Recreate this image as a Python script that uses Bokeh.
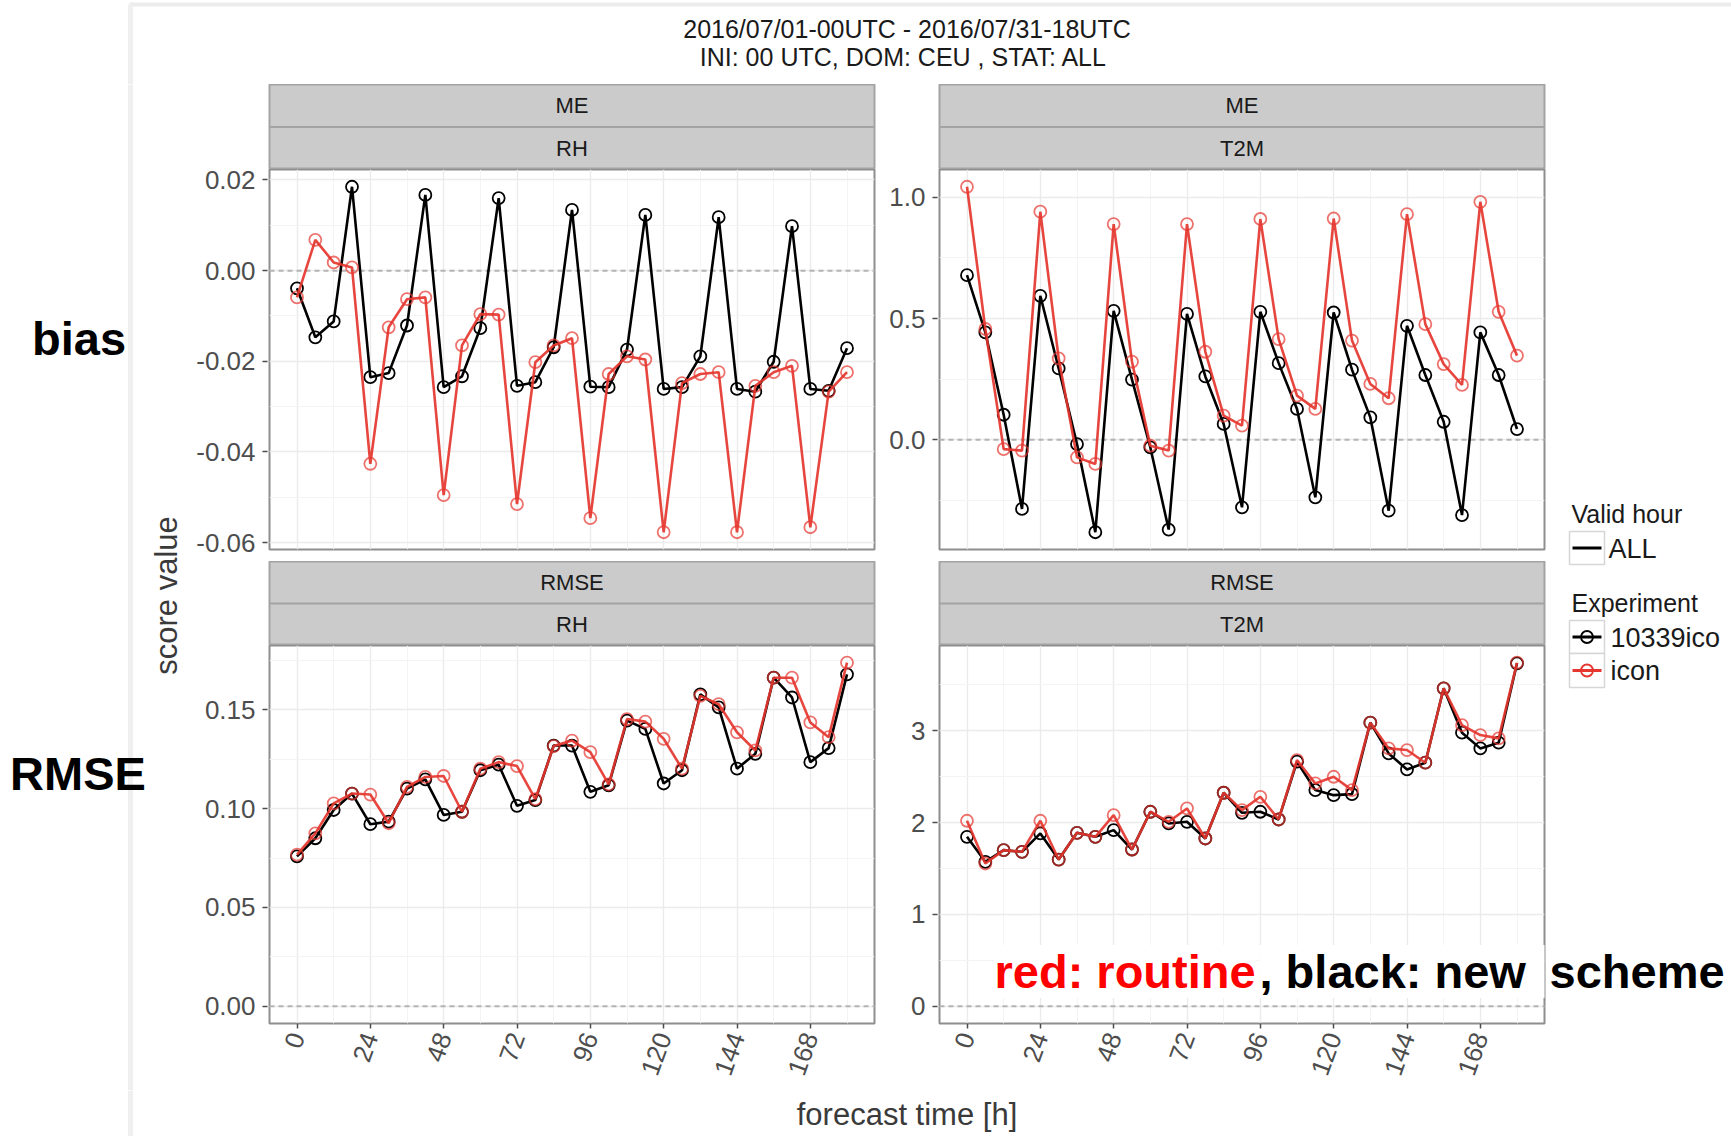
import math
from bokeh.plotting import figure
from bokeh.layouts import row, column
from bokeh.models import Range1d, FixedTicker, PrintfTickFormatter, Grid, Span, Label
from bokeh.embed import file_html
from bokeh.resources import INLINE
from bokeh.core.properties import value

# ---------------------------------------------------------------- data
# forecast lead times [h]
hours = [0, 6, 12, 18, 24, 30, 36, 42, 48, 54, 60, 66, 72, 78, 84, 90,
         96, 102, 108, 114, 120, 126, 132, 138, 144, 150, 156, 162, 168, 174, 180]
x_ticks = [0, 24, 48, 72, 96, 120, 144, 168]
x_minor = [12, 36, 60, 84, 108, 132, 156, 180]

experiments = ["10339ico", "icon"]
valid_hours = ["ALL"]

# mean error, relative humidity
me_rh_new = [-0.0039, -0.0147, -0.0112, 0.0185, -0.0235, -0.0226, -0.0121, 0.0167,
             -0.0257, -0.0233, -0.0127, 0.0160, -0.0254, -0.0246, -0.0169, 0.0134,
             -0.0256, -0.0257, -0.0174, 0.0123, -0.0261, -0.0257, -0.0189, 0.0118,
             -0.0261, -0.0267, -0.0201, 0.0098, -0.0261, -0.0265, -0.0171]
me_rh_icon = [-0.0059, 0.0068, 0.0018, 0.0007, -0.0426, -0.0125, -0.0063, -0.0059,
              -0.0495, -0.0165, -0.0096, -0.0097, -0.0515, -0.0202, -0.0165, -0.0149,
              -0.0546, -0.0228, -0.0189, -0.0196, -0.0577, -0.0248, -0.0228, -0.0224,
              -0.0577, -0.0254, -0.0224, -0.0210, -0.0566, -0.0267, -0.0224]

# mean error, 2 m temperature
me_t2m_new = [0.679, 0.443, 0.103, -0.286, 0.594, 0.294, -0.018, -0.382,
              0.532, 0.248, -0.032, -0.371, 0.519, 0.261, 0.065, -0.279,
              0.528, 0.316, 0.127, -0.238, 0.525, 0.289, 0.092, -0.293,
              0.470, 0.267, 0.074, -0.311, 0.443, 0.267, 0.044]
me_t2m_icon = [1.044, 0.457, -0.039, -0.045, 0.941, 0.336, -0.073, -0.100,
               0.890, 0.322, -0.025, -0.045, 0.890, 0.363, 0.099, 0.058,
               0.911, 0.415, 0.182, 0.127, 0.913, 0.409, 0.230, 0.171,
               0.931, 0.477, 0.312, 0.226, 0.982, 0.528, 0.347]

# RMSE, relative humidity
rmse_rh_new = [0.0758, 0.0850, 0.0993, 0.1076, 0.0921, 0.0934, 0.1101, 0.1148,
               0.0968, 0.0984, 0.1194, 0.1222, 0.1014, 0.1043, 0.1319, 0.1319,
               0.1085, 0.1118, 0.1445, 0.1403, 0.1127, 0.1194, 0.1578, 0.1512,
               0.1202, 0.1277, 0.1662, 0.1562, 0.1235, 0.1306, 0.1679]
rmse_rh_icon = [0.0767, 0.0875, 0.1026, 0.1076, 0.1071, 0.0926, 0.1110, 0.1160,
                0.1165, 0.0984, 0.1202, 0.1235, 0.1215, 0.1048, 0.1316, 0.1344,
                0.1286, 0.1122, 0.1453, 0.1440, 0.1353, 0.1202, 0.1570, 0.1528,
                0.1386, 0.1294, 0.1662, 0.1662, 0.1436, 0.1361, 0.1738]

# RMSE, 2 m temperature
rmse_t2m_new = [1.845, 1.573, 1.700, 1.682, 1.882, 1.598, 1.889, 1.845,
                1.918, 1.707, 2.118, 1.991, 2.009, 1.827, 2.325, 2.107,
                2.118, 2.034, 2.663, 2.354, 2.299, 2.310, 3.088, 2.753,
                2.579, 2.652, 3.462, 2.979, 2.808, 2.870, 3.734]
rmse_t2m_icon = [2.020, 1.555, 1.700, 1.682, 2.020, 1.598, 1.889, 1.845,
                 2.081, 1.707, 2.118, 2.009, 2.154, 1.827, 2.325, 2.136,
                 2.281, 2.034, 2.681, 2.426, 2.499, 2.354, 3.088, 2.808,
                 2.790, 2.652, 3.462, 3.062, 2.953, 2.917, 3.741]

title_lines = ["2016/07/01-00UTC - 2016/07/31-18UTC",
               "INI: 00 UTC, DOM:  CEU , STAT: ALL"]

# ---------------------------------------------------------------- style
FONT = "Liberation Sans"
RED = "#e5362f"
EDGE = "#8e8e8e"
STRIP = "#cbcbcb"
STRIP_EDGE = "#a3a3a3"
GRID = "#ebebeb"
GRID_MINOR = "#f4f4f4"
TICK_TXT = "#4d4d4d"

# layout sizes in pixels
TITLE_H, BODY_H, FOOT_H = 84, 1006, 46
COL_A, COL_E = 184, 185
FRAME_W = 605
L_AXIS_W, L_RIGHT = 84, 5      # y-axis strip width / right gap, left panels
R_AXIS_W, R_RIGHT = 59, 2      # same for the right panels
STRIP_TOP_H, PANEL_TOP_H = 85, 392
STRIP_BOT_H, PANEL_BOT_H = 84, 445
GAP, AXIS_H = 12, 67


def canvas(x0, x1, y0, y1):
    """Plain drawing surface whose data units are page pixels (y downwards)."""
    c = figure(width=x1 - x0, height=y1 - y0,
               x_range=Range1d(x0, x1), y_range=Range1d(y1, y0),
               x_axis_location=None, y_axis_location=None,
               min_border_left=0, min_border_right=0,
               min_border_top=0, min_border_bottom=0,
               toolbar_location=None, output_backend="svg",
               outline_line_color=None, background_fill_color="white",
               border_fill_color="white")
    c.grid.visible = False
    return c


def strip(labels, right, height):
    n = len(labels)
    s = figure(width=1 + FRAME_W + right, height=height,
               x_range=Range1d(0, 1), y_range=Range1d(0, n),
               x_axis_location=None, y_axis_location=None,
               min_border_left=1, min_border_right=right,
               min_border_top=0, min_border_bottom=0,
               toolbar_location=None, output_backend="svg",
               background_fill_color=STRIP, border_fill_color="white",
               outline_line_color=STRIP_EDGE, outline_line_width=2)
    s.grid.visible = False
    for k in range(1, n):
        s.add_layout(Span(location=k, dimension="width",
                          line_color=STRIP_EDGE, line_width=2))
    s.text(x=[0.5] * n, y=[n - 0.5 - i for i in range(n)], text=labels,
           text_align="center", text_baseline="middle",
           text_font=value(FONT), text_font_size="22px", text_color="#1a1a1a")
    return s


def style_axis(ax):
    ax.axis_line_color = None
    ax.major_tick_line_color = TICK_TXT
    ax.major_tick_line_width = 1.5
    ax.major_tick_out = 5
    ax.major_tick_in = 0
    ax.minor_tick_line_color = None
    ax.major_label_text_font = FONT
    ax.major_label_text_font_size = "26px"
    ax.major_label_text_color = TICK_TXT
    ax.major_label_standoff = 7


def panel(new, icon, yticks, yminor, fmt, axis_w, right, strip_h, height,
          bottom, with_x, include_zero):
    """Returns (y-axis figure, data figure) sharing one y range."""
    vals = new + icon + ([0.0] if include_zero else [])
    lo, hi = min(vals), max(vals)
    pad = 0.05 * (hi - lo)
    xpad = 0.05 * (max(hours) - min(hours))
    y_range = Range1d(lo - pad, hi + pad)
    xt = FixedTicker(ticks=x_ticks, minor_ticks=x_minor)
    yt = FixedTicker(ticks=yticks, minor_ticks=yminor)

    # y axis lives in its own narrow figure that also spans the strip height,
    # so that tick labels near the top are not clipped
    a = figure(width=axis_w, height=strip_h + height,
               x_range=Range1d(0, 1), y_range=y_range,
               x_axis_location=None, y_axis_location="left",
               min_border_left=axis_w - 1, min_border_right=0,
               min_border_top=strip_h, min_border_bottom=bottom,
               toolbar_location=None, output_backend="svg",
               background_fill_color=None, border_fill_color="white",
               outline_line_color=None)
    a.grid.visible = False
    style_axis(a.yaxis[0])
    a.yaxis.ticker = yt
    a.yaxis.formatter = PrintfTickFormatter(format=fmt)

    p = figure(width=1 + FRAME_W + right, height=height,
               x_range=Range1d(min(hours) - xpad, max(hours) + xpad),
               y_range=y_range,
               x_axis_location="below" if with_x else None,
               y_axis_location=None,
               min_border_left=1, min_border_right=right,
               min_border_top=0, min_border_bottom=bottom,
               toolbar_location=None, output_backend="svg",
               background_fill_color="white", border_fill_color="white",
               outline_line_color=EDGE, outline_line_width=2)

    if with_x:
        style_axis(p.xaxis[0])
        p.xaxis.ticker = xt
        p.xaxis.major_label_orientation = math.radians(70)
        p.xaxis.major_label_standoff = 5

    for dim, grids, tk in ((0, p.xgrid, xt), (1, p.ygrid, yt)):
        if len(grids) > 0:
            grids.ticker = tk
        else:
            p.add_layout(Grid(dimension=dim, ticker=tk))
    for g in p.grid:
        g.grid_line_color = GRID
        g.grid_line_width = 1.4
        g.minor_grid_line_color = GRID_MINOR
        g.minor_grid_line_width = 1

    p.add_layout(Span(location=0, dimension="width", level="underlay",
                      line_color="#b4b4b4", line_width=2, line_dash="5 4"))

    p.line(hours, new, line_color="black", line_width=2.6)
    p.scatter(hours, new, marker="circle", size=12, fill_color=None,
              line_color="black", line_width=1.8)
    p.line(hours, icon, line_color=RED, line_width=2.6, line_alpha=0.92)
    p.scatter(hours, icon, marker="circle", size=12, fill_color=None,
              line_color=RED, line_width=1.8, line_alpha=0.7)
    return a, p


# ---------------------------------------------------------------- panels
a_me_rh, p_me_rh = panel(me_rh_new, me_rh_icon, [-0.06, -0.04, -0.02, 0.0, 0.02],
                         [-0.05, -0.03, -0.01, 0.01], "%.2f",
                         L_AXIS_W, L_RIGHT, STRIP_TOP_H, PANEL_TOP_H, GAP,
                         False, False)
a_me_t2m, p_me_t2m = panel(me_t2m_new, me_t2m_icon, [0.0, 0.5, 1.0],
                           [-0.25, 0.25, 0.75], "%.1f",
                           R_AXIS_W, R_RIGHT, STRIP_TOP_H, PANEL_TOP_H, GAP,
                           False, False)
a_rmse_rh, p_rmse_rh = panel(rmse_rh_new, rmse_rh_icon, [0.0, 0.05, 0.10, 0.15],
                             [0.025, 0.075, 0.125, 0.175], "%.2f",
                             L_AXIS_W, L_RIGHT, STRIP_BOT_H, PANEL_BOT_H, AXIS_H,
                             True, True)
a_rmse_t2m, p_rmse_t2m = panel(rmse_t2m_new, rmse_t2m_icon, [0, 1, 2, 3],
                               [0.5, 1.5, 2.5, 3.5], "%d",
                               R_AXIS_W, R_RIGHT, STRIP_BOT_H, PANEL_BOT_H, AXIS_H,
                               True, True)

s_me_rh = strip(["ME", "RH"], L_RIGHT, STRIP_TOP_H)
s_me_t2m = strip(["ME", "T2M"], R_RIGHT, STRIP_TOP_H)
s_rmse_rh = strip(["RMSE", "RH"], L_RIGHT, STRIP_BOT_H)
s_rmse_t2m = strip(["RMSE", "T2M"], R_RIGHT, STRIP_BOT_H)

# annotation inside the lower right panel (page pixel -> panel data units)
BR_X0 = COL_A + L_AXIS_W + 1 + FRAME_W + L_RIGHT + R_AXIS_W + 1   # frame left edge
BR_Y0 = TITLE_H + STRIP_TOP_H + PANEL_TOP_H + STRIP_BOT_H          # frame top edge
BR_FRAME_H = PANEL_BOT_H - AXIS_H
xr, yr = p_rmse_t2m.x_range, p_rmse_t2m.y_range


def br_x(px):
    return xr.start + (px - BR_X0) / FRAME_W * (xr.end - xr.start)


def br_y(py):
    return yr.end - (py - BR_Y0) / BR_FRAME_H * (yr.end - yr.start)


NOTE_MID = 971
for txt, px, col in [("red: routine", 994, "#ff0000"),
                     (", black: new  ", 1259, "black")]:
    p_rmse_t2m.add_layout(Label(x=br_x(px), y=br_y(NOTE_MID), text=txt,
                                text_font=FONT, text_font_size="47px",
                                text_font_style="bold", text_color=col,
                                text_baseline="middle",
                                background_fill_color="white"))

# ---------------------------------------------------------------- page parts
W = (COL_A + L_AXIS_W + (1 + FRAME_W + L_RIGHT) + R_AXIS_W
     + (1 + FRAME_W + R_RIGHT) + COL_E)
y_body0, y_body1 = TITLE_H, TITLE_H + BODY_H
PANEL_MID = (BR_X0 - (1 + FRAME_W + L_RIGHT + R_AXIS_W) + BR_X0 + FRAME_W) / 2

head = canvas(0, W, 0, TITLE_H)
head.segment(x0=[129], y0=[4], x1=[W], y1=[4], line_color="#ececec", line_width=4)
head.segment(x0=[130], y0=[4], x1=[130], y1=[TITLE_H], line_color="#efefef", line_width=5)
head.text(x=[PANEL_MID, PANEL_MID], y=[28, 56], text=title_lines,
          text_align="center", text_baseline="middle",
          text_font=value(FONT), text_font_size="25px", text_color="#1a1a1a")

side = canvas(0, COL_A, y_body0, y_body1)
side.segment(x0=[130], y0=[y_body0], x1=[130], y1=[y_body1],
             line_color="#efefef", line_width=5)
side.text(x=[78.5, 77.5], y=[338, 773], text=["bias", "RMSE"],
          text_align="center", text_baseline="middle",
          text_font=value(FONT), text_font_size="47px",
          text_font_style="bold", text_color="black")
side.text(x=[166], y=[595], text=["score value"], angle=math.pi / 2,
          text_align="center", text_baseline="middle",
          text_font=value(FONT), text_font_size="31px", text_color="#3a3a3a")

x_e0 = W - COL_E
legend = canvas(x_e0, W, y_body0, y_body1)
legend.text(x=[1571, 1571], y=[513, 602], text=["Valid hour", "Experiment"],
            text_baseline="middle", text_font=value(FONT),
            text_font_size="25px", text_color="#1a1a1a")
legend.quad(left=[1569] * 3, right=[1604] * 3, top=[531, 620, 653],
            bottom=[564, 653, 687], fill_color="white",
            line_color="#d6d6d6", line_width=1.5)
legend.segment(x0=[1572] * 3, x1=[1601] * 3, y0=[547.5, 636.5, 670],
               y1=[547.5, 636.5, 670], line_color=["black", "black", RED],
               line_width=3)
legend.scatter(x=[1586.5, 1586.5], y=[636.5, 670], marker="circle", size=12,
               fill_color=None, line_color=["black", RED], line_width=1.8)
legend.text(x=[1608, 1610, 1610], y=[548, 637, 670],
            text=valid_hours + experiments, text_baseline="middle",
            text_font=value(FONT), text_font_size="27px", text_color="#1a1a1a")
legend.text(x=[1549], y=[NOTE_MID], text=["scheme"], text_baseline="middle",
            text_font=value(FONT), text_font_size="47px",
            text_font_style="bold", text_color="black")

foot = canvas(0, W, y_body1, y_body1 + FOOT_H)
foot.segment(x0=[130], y0=[y_body1], x1=[130], y1=[y_body1 + FOOT_H],
             line_color="#efefef", line_width=5)
foot.text(x=[PANEL_MID], y=[1114], text=["forecast time [h]"],
          text_align="center", text_baseline="middle",
          text_font=value(FONT), text_font_size="31px", text_color="#3a3a3a")

left_axes = column(a_me_rh, a_rmse_rh, spacing=0)
left_col = column(s_me_rh, p_me_rh, s_rmse_rh, p_rmse_rh, spacing=0)
right_axes = column(a_me_t2m, a_rmse_t2m, spacing=0)
right_col = column(s_me_t2m, p_me_t2m, s_rmse_t2m, p_rmse_t2m, spacing=0)
body = row(side, left_axes, left_col, right_axes, right_col, legend, spacing=0)
page = column(head, body, foot, spacing=0)

open("out.html", "w").write(file_html(page, INLINE))
